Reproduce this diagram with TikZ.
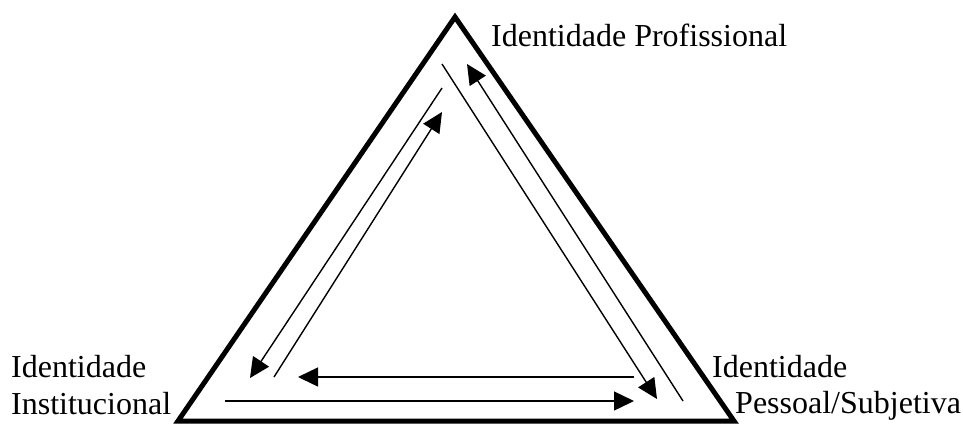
\documentclass[tikz,border=0pt]{standalone}
\usepackage{fontspec}
\setmainfont{Liberation Serif}
\usetikzlibrary{arrows.meta}
\begin{document}
\begin{tikzpicture}[x=1pt,y=-1pt,
  side/.style={line width=5pt,line join=miter},
  flow/.style={line width=1.4pt,-{Triangle[length=20pt,width=19pt]}},
  lbl/.style={inner sep=0pt,anchor=base west,font=\fontsize{32}{37}\selectfont}]
	\useasboundingbox (0,0) rectangle (963,424);
	\coordinate (top) at (455,17);
	\coordinate (left) at (178,421);
	\coordinate (right) at (734,421);
	\draw[side] (top) -- (left) -- (right) -- cycle;
	\coordinate (a1) at (442,88);  \coordinate (a2) at (250,378);
	\coordinate (b1) at (274,377); \coordinate (b2) at (442,112);
	\coordinate (c1) at (442,64);  \coordinate (c2) at (657,399);
	\coordinate (d1) at (683,401); \coordinate (d2) at (467,64);
	\coordinate (e1) at (634,377); \coordinate (e2) at (298,377);
	\coordinate (f1) at (225,401); \coordinate (f2) at (634,401);
	\draw[flow] (a1) -- (a2);
	\draw[flow] (b1) -- (b2);
	\draw[flow] (c1) -- (c2);
	\draw[flow] (d1) -- (d2);
	\draw[flow] (e1) -- (e2);
	\draw[flow] (f1) -- (f2);
	\node[lbl] (prof) at (491,46) {Identidade Profissional};
	\node[lbl] (inst1) at (11,377) {Identidade};
	\node[lbl] (inst2) at (11,414) {Institucional};
	\node[lbl] (pess1) at (712,377) {Identidade};
	\node[lbl] (pess2) at (735,413) {Pessoal/Subjetiva};
\end{tikzpicture}
\end{document}
